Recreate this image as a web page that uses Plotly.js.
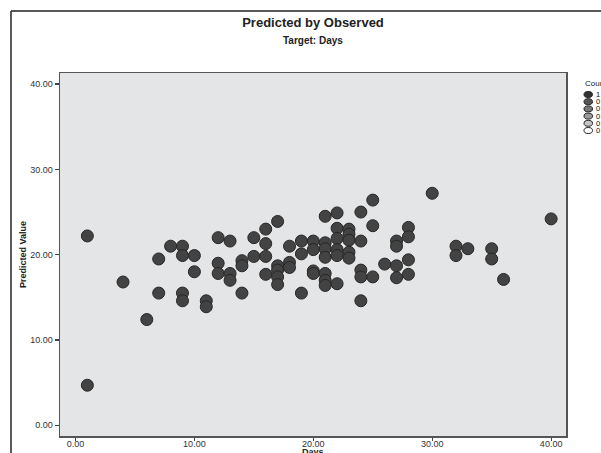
<!DOCTYPE html>
<html>
<head>
<meta charset="utf-8">
<script src="https://cdn.plot.ly/plotly-3.0.1.min.js"></script>
<style>html,body{margin:0;padding:0;background:#fff;}#chart{width:601px;height:453px;}</style>
</head>
<body>
<div id="chart"></div>
<script>
// Observed days (x) and predicted value (y)
const days = [1, 1, 4, 6, 7, 7, 8, 9, 9, 9, 9, 10, 10, 11, 11,
  12, 12, 12, 13, 13, 13, 14, 14, 14, 15, 15, 16, 16, 16, 16,
  17, 17, 17, 17, 17, 18, 18, 18, 19, 19, 19, 20, 20, 20, 20,
  21, 21, 21, 21, 21, 21, 21, 22, 22, 22, 22, 22, 22,
  23, 23, 23, 23, 23, 24, 24, 24, 24, 24, 25, 25, 25, 26,
  27, 27, 27, 27, 28, 28, 28, 28, 30, 32, 32, 33, 35, 35, 36, 40];
const predicted = [22.2, 4.7, 16.8, 12.4, 19.5, 15.5, 21.0, 21.0, 19.9, 15.5, 14.6, 19.9, 18.0, 14.6, 13.9,
  22.0, 19.0, 17.8, 21.6, 17.8, 17.0, 19.3, 18.7, 15.5, 22.0, 19.8, 23.0, 21.3, 19.8, 17.7,
  23.9, 18.7, 18.2, 17.4, 16.5, 21.0, 19.1, 18.5, 21.6, 20.1, 15.5, 21.6, 20.6, 18.1, 17.8,
  24.5, 21.4, 20.7, 19.7, 17.8, 17.0, 16.4, 24.9, 23.1, 21.9, 20.6, 19.9, 16.6,
  23.0, 22.4, 21.7, 20.3, 19.6, 25.0, 21.6, 18.2, 17.4, 14.6, 26.4, 23.4, 17.4, 18.9,
  21.6, 21.0, 18.7, 17.3, 23.2, 22.1, 19.4, 17.7, 27.2, 21.0, 19.9, 20.7, 20.7, 19.5, 17.1, 24.2];
const xTicks = [0, 10, 20, 30, 40];
const yTicks = [0, 10, 20, 30, 40];
const legendLabels = ["1", "0", "0", "0", "0", "0"];
const legendColors = ["#333333", "#555555", "#777777", "#9a9a9a", "#c4c4c4", "#ffffff"];

const W = 601, H = 453;
const M = {l: 60, r: 35, t: 73, b: 17};
const PW = W - M.l - M.r, PH = H - M.t - M.b;
const px = x => (x - M.l) / PW;
const py = y => (H - M.b - y) / PH;

const font = '"Liberation Sans", Arial, sans-serif';
const narrow = '"Liberation Sans Narrow", "Arial Narrow", "Liberation Sans", sans-serif';

const shapes = [
  // outer frame lines
  {type: 'line', xref: 'paper', yref: 'paper', x0: px(11), x1: px(11), y0: py(11), y1: py(460), line: {color: '#222', width: 1.5}},
  {type: 'line', xref: 'paper', yref: 'paper', x0: px(11), x1: px(610), y0: py(11), y1: py(11), line: {color: '#222', width: 1.5}}
];
const annotations = [
  {text: '<b>Target: Days</b>', xref: 'paper', yref: 'paper', x: 0.5, y: py(40), xanchor: 'center', yanchor: 'middle',
   showarrow: false, font: {family: font, size: 10, color: '#222'}},
  {text: 'Count', xref: 'paper', yref: 'paper', x: px(583), y: py(84), xanchor: 'left', yanchor: 'middle',
   showarrow: false, font: {family: font, size: 8, color: '#222'}},
  {text: '<b>Days</b>', xref: 'paper', yref: 'paper', x: 0.5, y: py(452), xanchor: 'center', yanchor: 'middle',
   showarrow: false, font: {family: font, size: 9, color: '#222'}}
];
legendLabels.forEach((lab, i) => {
  const cy = 94.5 + i * 7.2;
  shapes.push({type: 'circle', xref: 'paper', yref: 'paper',
    x0: px(584), x1: px(592.5), y0: py(cy - 3), y1: py(cy + 3),
    fillcolor: legendColors[i], line: {color: '#222', width: 1}});
  annotations.push({text: lab, xref: 'paper', yref: 'paper', x: px(593.5), y: py(cy), xanchor: 'left', yanchor: 'middle',
    showarrow: false, font: {family: font, size: 7.5, color: '#111'}});
});

const trace = {
  x: days, y: predicted, type: 'scatter', mode: 'markers',
  marker: {size: 12, color: '#434343', line: {color: '#262626', width: 1}},
  showlegend: false, hoverinfo: 'x+y'
};

const layout = {
  width: W, height: H,
  margin: M,
  paper_bgcolor: '#ffffff', plot_bgcolor: '#e4e5e7',
  showlegend: false,
  title: {text: '<b>Predicted by Observed</b>', x: 0.5, xref: 'paper', y: 1 - 22 / H, yanchor: 'middle',
          font: {family: font, size: 13, color: '#222'}},
  xaxis: {range: [-1.3, 41.25], tickvals: xTicks, ticktext: xTicks.map(v => v.toFixed(2)),
          ticks: 'outside', ticklen: 3, tickcolor: '#444', tickwidth: 1.2,
          ticklabelstandoff: -4,
          showline: true, mirror: true, linecolor: '#555', linewidth: 1.5,
          showgrid: false, zeroline: false, automargin: false,
          tickfont: {family: font, size: 9, color: '#333'}},
  yaxis: {range: [-1.25, 41.3], tickvals: yTicks, ticktext: yTicks.map(v => v.toFixed(2)),
          ticks: 'outside', ticklen: 4, tickcolor: '#444', tickwidth: 1.2,
          showline: true, mirror: true, linecolor: '#555', linewidth: 1.5,
          showgrid: false, zeroline: false, automargin: false,
          tickfont: {family: font, size: 9, color: '#333'},
          title: {text: '<b>Predicted Value</b>', standoff: 2,
                  font: {family: narrow, size: 9, color: '#222'}}},
  shapes: shapes,
  annotations: annotations
};

Plotly.newPlot('chart', [trace], layout, {displayModeBar: false, staticPlot: true});
</script>
</body>
</html>
